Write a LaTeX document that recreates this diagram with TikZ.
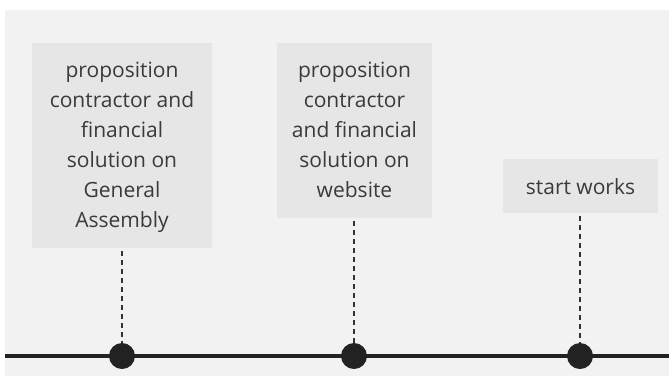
\documentclass[tikz,border=0pt]{standalone}
\usepackage{fontspec}
\setmainfont{Open Sans}
\begin{document}
\begin{tikzpicture}[x=1pt,y=-1pt,
  card/.style={fill=cardgray, draw=none, inner sep=0pt},
  cardtext/.style={text=textgray, align=center, inner sep=0pt,
    font=\fontsize{21}{30}\selectfont},
  stem/.style={draw=stemgray, line width=1.8pt, dash pattern=on 5pt off 4pt},
  dot/.style={circle, fill=dotblack, draw=none, minimum size=26pt, inner sep=0pt}]
\definecolor{bggray}{HTML}{F2F2F2}
\definecolor{cardgray}{HTML}{E6E6E6}
\definecolor{textgray}{HTML}{3A3A3A}
\definecolor{stemgray}{HTML}{333333}
\definecolor{dotblack}{HTML}{222222}
\useasboundingbox (0,0) rectangle (669,376);
\fill[white] (0,0) rectangle (669,376);
\fill[bggray] (5,10) rectangle (669,376);
% milestone cards
\node[card, minimum width=180pt, minimum height=205pt] (c1) at (122,145.5) {};
\node[card, minimum width=155pt, minimum height=175pt] (c2) at (354.5,130.5) {};
\node[card, minimum width=155pt, minimum height=54pt] (c3) at (580.5,186) {};
\node[cardtext] (t1) at ([yshift=-2pt]c1.center)
  {proposition\\contractor and\\financial\\solution on\\General\\Assembly};
\node[cardtext] (t2) at ([yshift=0.5pt]c2.center)
  {proposition\\contractor\\and financial\\solution on\\website};
\node[cardtext] (t3) at ([yshift=-1pt]c3.center) {start works};
% timeline axis
\coordinate (tl) at (5,356);
\coordinate (tr) at (669,356);
\draw[dotblack, line width=3.5pt] (tl) -- (tr);
% milestone markers
\node[dot] (d1) at (122,356) {};
\node[dot] (d2) at (354,356) {};
\node[dot] (d3) at (580,356) {};
% connectors from cards to markers
\draw[stem] (c1.south -| d1) ++(0,3) -- (d1.north);
\draw[stem] (c2.south -| d2) ++(0,3) -- (d2.north);
\draw[stem] (c3.south -| d3) ++(0,3) -- (d3.north);
\end{tikzpicture}
\end{document}
